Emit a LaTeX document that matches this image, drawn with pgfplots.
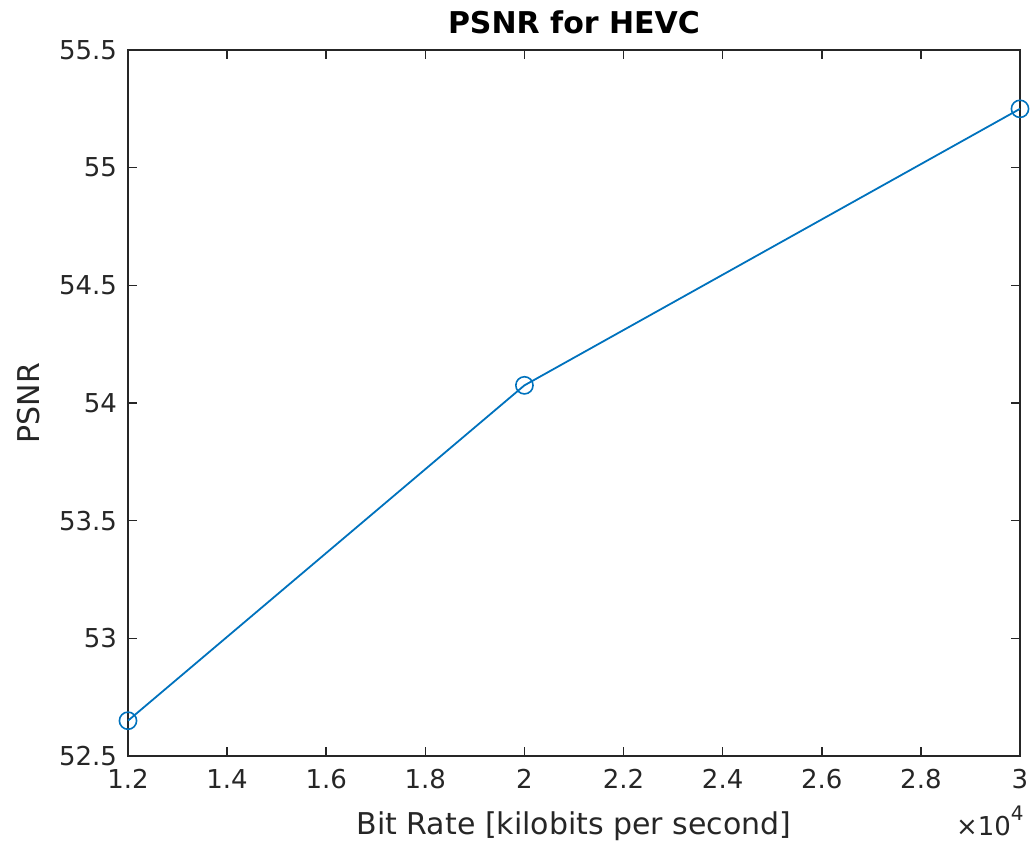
\documentclass[border=0pt]{standalone}
\usepackage{fontspec}
\setmainfont{DejaVu Sans}
\usepackage{pgfplots}
\pgfplotsset{compat=1.18}
\definecolor{mblue}{rgb}{0,0.447,0.741}
\definecolor{axgray}{rgb}{0.15,0.15,0.15}
\begin{document}
\begin{tikzpicture}
\useasboundingbox (-64pt,-44pt) rectangle (453pt,378pt);
\begin{axis}[
  at={(0,0)}, anchor=south west,
  scale only axis,
  width=446pt, height=353pt,
  xmin=12000, xmax=30000,
  ymin=52.5, ymax=55.5,
  xtick={12000,14000,16000,18000,20000,22000,24000,26000,28000,30000},
  xticklabels={1.2,1.4,1.6,1.8,2,2.2,2.4,2.6,2.8,3},
  scaled x ticks=false,
  ytick={52.5,53,53.5,54,54.5,55,55.5},
  yticklabels={52.5,53,53.5,54,54.5,55,55.5},
  tick label style={font=\fontsize{13}{15}\selectfont, text=axgray},
  tick align=inside,
  major tick length=4.5pt,
  axis line style={axgray, line width=0.8pt},
  every tick/.style={axgray, line width=0.8pt},
  xticklabel style={yshift=-3pt},
  yticklabel style={xshift=-2pt},
  title={\textbf{PSNR for HEVC}},
  title style={font=\fontsize{15}{17}\selectfont, at={(axis description cs:0.5,1)}, anchor=base, yshift=2pt, inner sep=0pt},
  xlabel={Bit Rate [kilobits per second]},
  ylabel={PSNR},
  label style={font=\fontsize{15}{17}\selectfont, text=axgray},
  xlabel style={at={(axis description cs:0.5,0)}, anchor=center, yshift=-35pt},
  ylabel style={at={(axis description cs:-0.112,0.5)}, anchor=center},
  clip=false,
]
\addplot[mblue, line width=0.9pt, mark=o, mark size=4.3pt, mark options={line width=0.8pt}] coordinates {
  (12000,52.65) (20000,54.075) (30000,55.25)
};
\node[anchor=north east, inner sep=0pt, font=\fontsize{13}{15}\selectfont, text=axgray] at ([yshift=-25pt, xshift=2pt]rel axis cs:1,0) {×10\raisebox{0.55em}{\fontsize{10}{12}\selectfont 4}};
\end{axis}
\end{tikzpicture}
\end{document}
